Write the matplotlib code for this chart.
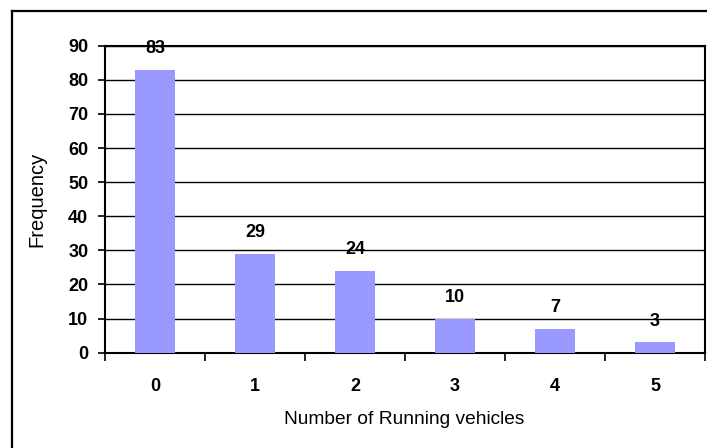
import matplotlib.pyplot as plt
from matplotlib.lines import Line2D

# frequency of running vehicles
vehicles = ["0", "1", "2", "3", "4", "5"]
frequency = [83, 29, 24, 10, 7, 3]
y_ticks = [0, 10, 20, 30, 40, 50, 60, 70, 80, 90]

plt.rcParams['font.family'] = ['Liberation Sans', 'DejaVu Sans']

W, H = 707, 448
fig = plt.figure(figsize=(W / 100, H / 100), dpi=100)
ax = fig.add_axes([105 / W, 1 - 352.7 / H, 600 / W, 307 / H])

pos = list(range(len(vehicles)))
ax.bar(pos, frequency, width=0.4, color="#9999FF", zorder=3)
for x, v in zip(pos, frequency):
    ax.annotate(str(v), (x, v), xytext=(0, 9), textcoords="offset points",
                ha="center", va="bottom", fontsize=13, fontweight="bold", zorder=4)

ax.set_xlim(-0.5, len(vehicles) - 0.5)
ax.set_ylim(0, 90)
ax.set_yticks(y_ticks)
ax.set_yticklabels([str(t) for t in y_ticks], fontsize=13, fontweight="bold")
ax.yaxis.grid(True, color="black", linewidth=1.0, zorder=1)
ax.tick_params(axis="y", direction="out", length=5, width=1.2, pad=7)

# category labels in the middle, tick marks on the boundaries
ax.set_xticks(pos)
ax.set_xticklabels(vehicles, fontsize=13, fontweight="bold")
ax.tick_params(axis="x", which="major", length=0, pad=18.5)
ax.set_xticks([p - 0.5 for p in pos] + [len(pos) - 0.5], minor=True)
ax.tick_params(axis="x", which="minor", direction="out", length=5.5, width=1.2)

for s in ax.spines.values():
    s.set_linewidth(1.5)
    s.set_color("black")

ax.set_ylabel("Frequency", fontsize=14.5)
ax.yaxis.set_label_coords(-0.098, 0.5)
ax.set_xlabel("Number of Running vehicles", fontsize=13.8, va="center")
ax.xaxis.set_label_coords(0.498, -0.219)

# outer chart border
fig.add_artist(Line2D([12 / W, 12 / W], [0, 1 - 11 / H], color="black", linewidth=1.6,
                      transform=fig.transFigure))
fig.add_artist(Line2D([12 / W, 1], [1 - 11 / H, 1 - 11 / H], color="black", linewidth=1.6,
                      transform=fig.transFigure))

fig.savefig("out.png", dpi=100)
